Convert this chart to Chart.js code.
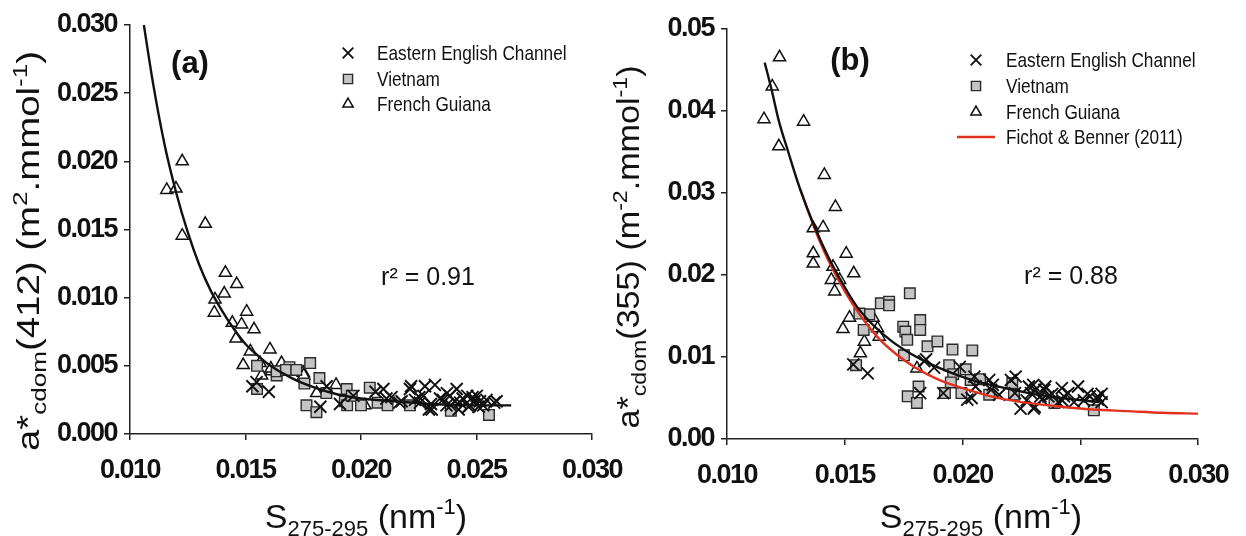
<!DOCTYPE html>
<html>
<head>
<meta charset="utf-8">
<script src="https://cdn.jsdelivr.net/npm/chart.js@4.4.0/dist/chart.umd.min.js"></script>
<style>
  html, body { margin: 0; padding: 0; background: #fff; }
  #wrap { position: relative; width: 1246px; height: 536px; overflow: hidden; background: #fff; }
  #wrap canvas { position: absolute; top: 0; }
  #chartA { left: 0; }
  #chartB { left: 600px; }
</style>
</head>
<body>
<div id="wrap">
  <canvas id="chartA" width="640" height="536"></canvas>
  <canvas id="chartB" width="646" height="536"></canvas>
</div>
<script>
// ---- data: [S275-295, a*cdom] ----
const seriesNames = ['Eastern English Channel', 'Vietnam', 'French Guiana'];
const fitNameB = 'Fichot & Benner (2011)';

// panel (a) : a*cdom(412)
const aChannel = [[0.01601,0.0031],[0.0153,0.0035],[0.01548,0.0038],[0.01824,0.0020],[0.01851,0.0035],[0.01909,0.0022],
  [0.01967,0.0028],[0.02063,0.0031],[0.02097,0.0033],[0.0211,0.0026],[0.02132,0.0027],[0.02166,0.0023],[0.02176,0.0024],
  [0.02212,0.0033],[0.02217,0.0035],[0.02234,0.0025],[0.02252,0.0027],[0.02255,0.0023],[0.0227,0.0028],[0.02277,0.0035],
  [0.02294,0.0018],[0.02303,0.0022],[0.02306,0.0018],[0.0232,0.0036],[0.02342,0.0026],[0.02354,0.0025],[0.0237,0.0021],
  [0.02372,0.0030],[0.02385,0.0028],[0.02389,0.0021],[0.02406,0.0024],[0.02414,0.0033],[0.02423,0.0018],[0.02429,0.0023],
  [0.0244,0.0026],[0.0246,0.0028],[0.02466,0.0020],[0.02472,0.0021],[0.02483,0.0027],[0.02491,0.0024],[0.02501,0.0028],
  [0.02509,0.0020],[0.02515,0.0024],[0.02529,0.0021],[0.02543,0.0025],[0.02577,0.0023],[0.02587,0.0024]];
const aVietnam = [[0.0155,0.0033],[0.0155,0.0050],[0.01635,0.0043],[0.01635,0.0046],[0.0169,0.0049],[0.01675,0.0047],
  [0.0172,0.0047],[0.0178,0.0052],[0.01755,0.0037],[0.01764,0.0021],[0.01807,0.0016],[0.0182,0.0041],[0.0185,0.0030],
  [0.0193,0.0024],[0.01938,0.0033],[0.0194,0.0021],[0.0196,0.0028],[0.0200,0.0021],[0.02038,0.0034],[0.02072,0.0023],
  [0.02115,0.0021],[0.02212,0.0021],[0.02389,0.0017],[0.02554,0.0014]];
const aGuiana = [[0.01159,0.0179],[0.01199,0.0180],[0.01226,0.0200],[0.01226,0.01455],[0.01326,0.01542],[0.01413,0.01182],
  [0.01462,0.0110],[0.01368,0.00987],[0.01408,0.0103],[0.01365,0.0089],[0.01505,0.00897],[0.01443,0.00816],[0.01483,0.00804],
  [0.01537,0.00768],[0.01459,0.0070],[0.01521,0.00606],[0.0149,0.00506],[0.01606,0.0062],[0.01563,0.0052],[0.0157,0.0043],
  [0.01613,0.0046],[0.01656,0.0052],[0.0175,0.0045],[0.01808,0.0030],[0.01892,0.0036],[0.02017,0.0021],[0.0161,0.0048],
  [0.01752,0.0043]];
const aFit = [[0.0106,0.0300],[0.0110,0.0257],[0.0115,0.0212],[0.0120,0.0177],[0.0125,0.0148],[0.0130,0.0124],
  [0.0135,0.0105],[0.0140,0.0090],[0.0145,0.0077],[0.0150,0.0066],[0.0155,0.0058],[0.0160,0.0051],[0.0170,0.0041],
  [0.0180,0.0034],[0.0190,0.0029],[0.0200,0.0026],[0.0215,0.0024],[0.0230,0.0022],[0.0250,0.0021],[0.0265,0.0021]];

// panel (b) : a*cdom(355)
const bChannel = [[0.01536,0.0091],[0.01597,0.0080],[0.0182,0.0056],[0.01837,0.0095],[0.01845,0.0097],[0.01879,0.0087],
  [0.01918,0.0056],[0.01988,0.0088],[0.0202,0.0048],[0.02038,0.0050],[0.0205,0.0076],[0.02055,0.0064],[0.02113,0.0072],
  [0.02121,0.0060],[0.02128,0.0066],[0.02155,0.0054],[0.02205,0.0072],[0.02222,0.0056],[0.02225,0.0076],[0.02246,0.0037],
  [0.02272,0.0047],[0.02281,0.0064],[0.0229,0.0056],[0.023,0.0066],[0.02302,0.0037],[0.02306,0.0039],[0.02309,0.0060],
  [0.0233,0.0052],[0.02337,0.0048],[0.02347,0.0060],[0.02351,0.0064],[0.02364,0.0052],[0.0238,0.0055],[0.02406,0.0045],
  [0.02421,0.0062],[0.02423,0.0047],[0.0243,0.0052],[0.02448,0.0056],[0.02473,0.0045],[0.0249,0.0064],[0.02515,0.0047],
  [0.0253,0.0055],[0.0254,0.0052],[0.02573,0.0052],[0.02574,0.0048],[0.0259,0.0045],[0.0259,0.0055]];
const bVietnam = [[0.01548,0.0090],[0.0158,0.0133],[0.01604,0.0152],[0.01562,0.0153],[0.01653,0.01655],[0.01688,0.01675],
  [0.01688,0.0163],[0.01776,0.01777],[0.01748,0.0137],[0.01757,0.0131],[0.01765,0.0121],[0.0182,0.0145],[0.0182,0.0133],
  [0.01751,0.0102],[0.01851,0.0113],[0.01893,0.0119],[0.01957,0.0109],[0.02041,0.0108],[0.01943,0.0090],[0.02013,0.0085],
  [0.0196,0.0079],[0.02034,0.0072],[0.02074,0.0073],[0.01813,0.0064],[0.01767,0.0052],[0.01806,0.0044],[0.01925,0.0056],
  [0.01995,0.0056],[0.02113,0.0054],[0.02211,0.0068],[0.02218,0.0054],[0.0239,0.0044],[0.02557,0.0035],[0.0195,0.0069]];
const bGuiana = [[0.01157,0.0390],[0.01192,0.0430],[0.01223,0.04655],[0.0122,0.0357],[0.01325,0.0387],[0.01413,0.0322],
  [0.0146,0.0283],[0.01366,0.0257],[0.01408,0.0258],[0.01366,0.02265],[0.01366,0.0214],[0.01506,0.0226],[0.0145,0.0210],
  [0.01538,0.0202],[0.01443,0.0194],[0.01478,0.0194],[0.01457,0.0180],[0.0152,0.0148],[0.01492,0.0134],[0.01583,0.01187],
  [0.01566,0.01045],[0.01639,0.0135],[0.01646,0.01248],[0.01806,0.0086],[0.0162,0.0148]];
const bFit = [[0.0116,0.0459],[0.0119,0.0425],[0.0122,0.0388],[0.0126,0.0350],[0.0131,0.0305],[0.0137,0.0260],
  [0.0143,0.0222],[0.0149,0.0190],[0.0155,0.0162],[0.0162,0.0139],[0.0170,0.0119],[0.0178,0.0104],[0.0186,0.0092],
  [0.0195,0.0081],[0.0205,0.0071],[0.0215,0.0064],[0.0228,0.0056],[0.0242,0.0050],[0.0258,0.0045]];
const bFichot = [[0.0131,0.0305],[0.0137,0.0258],[0.0143,0.0218],[0.0150,0.0180],[0.0157,0.0149],[0.0164,0.0124],
  [0.0172,0.0103],[0.0180,0.0087],[0.0190,0.0072],[0.0200,0.0062],[0.0212,0.0052],[0.0225,0.0045],[0.0240,0.0040],
  [0.0255,0.0036],[0.0270,0.0034],[0.0285,0.0032],[0.0300,0.0031]];

const xTicks = [0.010, 0.015, 0.020, 0.025, 0.030];
const yTicksA = [0.000, 0.005, 0.010, 0.015, 0.020, 0.025, 0.030];
const yTicksB = [0.00, 0.01, 0.02, 0.03, 0.04, 0.05];
const r2A = 'r² = 0.91';
const r2B = 'r² = 0.88';

// ---- styling ----
const SANS = "'Liberation Sans', Arial, sans-serif";
const MAIN = '31px ' + SANS;
const SMALL = '21px ' + SANS;
const XMAIN = '34px ' + SANS;
const XSMALL = '22px ' + SANS;
Chart.defaults.font.family = SANS;

const markerStyles = [
  { pointStyle: 'crossRot', radius: 8.5, borderWidth: 1.9, borderColor: '#111', backgroundColor: '#111' },
  { pointStyle: 'rect', radius: 7.5, borderWidth: 1.4, borderColor: '#2a2a2a', backgroundColor: '#c4c4c4' },
  { pointStyle: 'triangle', radius: 7, borderWidth: 1.5, borderColor: '#111', backgroundColor: '#ffffff' }
];

function pts(arr) { return arr.map(p => ({ x: p[0], y: p[1] })); }

function scatterSet(label, arr, i) {
  const m = markerStyles[i];
  return {
    label: label, data: pts(arr), order: 2 + i,
    pointStyle: m.pointStyle, pointRadius: m.radius, pointHoverRadius: m.radius,
    pointBorderWidth: m.borderWidth, pointBorderColor: m.borderColor, pointBackgroundColor: m.backgroundColor,
    showLine: false
  };
}

function lineSet(label, arr, color) {
  return {
    type: 'line', label: label, data: pts(arr), order: 0,
    borderColor: color, borderWidth: 2.4, pointRadius: 0, fill: false,
    cubicInterpolationMode: 'monotone'
  };
}

function makeAxis(ticks, digits, isX, fitSize) {
  return {
    type: 'linear',
    min: ticks[0], max: ticks[ticks.length - 1],
    border: { color: '#222', width: 1.5 },
    grid: { drawOnChartArea: false, tickLength: 6, color: '#222', lineWidth: 1.5 },
    afterBuildTicks: s => { s.ticks = ticks.map(v => ({ value: v })); },
    afterFit: s => { if (isX) s.height = fitSize; else s.width = fitSize; },
    ticks: {
      color: '#111', padding: isX ? 14 : 7, maxRotation: 0, autoSkip: false,
      font: { size: 27, weight: 'bold' },
      callback: v => v.toFixed(digits)
    }
  };
}

// tight letter spacing for the bold tick labels only
const tightTicks = {
  id: 'tightTicks',
  beforeDraw(chart) { chart.ctx.letterSpacing = '-1.5px'; },
  beforeDatasetsDraw(chart) { chart.ctx.letterSpacing = '0px'; }
};

// rich text helper: parts drawn along one baseline, centred on (x,y)
function drawRich(ctx, parts, x, y, rotate, length) {
  ctx.save();
  ctx.translate(x, y);
  if (rotate) ctx.rotate(-Math.PI / 2);
  let w = 0;
  parts.forEach(p => { ctx.font = p.font; w += ctx.measureText(p.t).width; });
  if (length) ctx.scale(length / w, 1);
  ctx.fillStyle = '#111';
  ctx.textAlign = 'left';
  ctx.textBaseline = 'alphabetic';
  let cx = -w / 2;
  parts.forEach(p => {
    ctx.font = p.font;
    ctx.fillText(p.t, cx, p.dy || 0);
    cx += ctx.measureText(p.t).width;
  });
  ctx.restore();
}

function textPlugin(cfg) {
  return {
    id: 'panelText',
    afterDraw(chart) {
      const ctx = chart.ctx;
      ctx.letterSpacing = '0px';
      ctx.save();
      // panel letter
      ctx.fillStyle = '#111';
      ctx.font = 'bold 31px ' + SANS;
      ctx.textAlign = 'center';
      ctx.textBaseline = 'middle';
      ctx.fillText(cfg.letter, cfg.letterPos[0], cfg.letterPos[1]);
      // r2
      ctx.font = '25px ' + SANS;
      ctx.fillText(cfg.r2, cfg.r2Pos[0], cfg.r2Pos[1]);
      // legend
      cfg.legend.forEach((row, i) => {
        const y = cfg.legendY[i];
        if (row.line) {
          ctx.strokeStyle = row.line;
          ctx.lineWidth = 2.5;
          ctx.beginPath();
          ctx.moveTo(cfg.lineX[0], y);
          ctx.lineTo(cfg.lineX[1], y);
          ctx.stroke();
        } else {
          const m = markerStyles[i];
          ctx.fillStyle = m.backgroundColor;
          ctx.strokeStyle = m.borderColor;
          ctx.lineWidth = m.borderWidth;
          Chart.helpers.drawPoint(ctx, { pointStyle: m.pointStyle, radius: m.radius - 1, borderWidth: m.borderWidth, rotation: 0 }, cfg.markX, y);
        }
        ctx.save();
        ctx.translate(cfg.textX, y);
        ctx.scale(0.82, 1);
        ctx.fillStyle = '#111';
        ctx.font = '21px ' + SANS;
        ctx.textAlign = 'left';
        ctx.textBaseline = 'middle';
        ctx.fillText(row.text, 0, 1);
        ctx.restore();
      });
      ctx.restore();
      drawRich(ctx, cfg.yTitle, cfg.yTitlePos[0], cfg.yTitlePos[1], true, cfg.yTitleLen);
      drawRich(ctx, cfg.xTitle, cfg.xTitlePos[0], cfg.xTitlePos[1], false, 0);
    }
  };
}

const xTitleParts = [
  { t: 'S', font: XMAIN }, { t: '275-295', font: XSMALL, dy: 8 }, { t: ' (nm', font: XMAIN },
  { t: '-1', font: XSMALL, dy: -14 }, { t: ')', font: XMAIN }
];
const yTitleA = [
  { t: 'a*', font: MAIN }, { t: 'cdom', font: SMALL, dy: 7 }, { t: '(412) (m', font: MAIN },
  { t: '2', font: SMALL, dy: -12 }, { t: '.mmol', font: MAIN }, { t: '-1', font: SMALL, dy: -12 }, { t: ')', font: MAIN }
];
const yTitleB = [
  { t: 'a*', font: MAIN }, { t: 'cdom', font: SMALL, dy: 7 }, { t: '(355) (m', font: MAIN },
  { t: '-2', font: SMALL, dy: -12 }, { t: '.mmol', font: MAIN }, { t: '-1', font: SMALL, dy: -12 }, { t: ')', font: MAIN }
];

function baseOptions(yTicks, yDigits, yWidth, xHeight, pad) {
  return {
    responsive: false, animation: false, devicePixelRatio: 1,
    layout: { padding: pad },
    plugins: { legend: { display: false }, tooltip: { enabled: false } },
    scales: {
      x: makeAxis(xTicks, 3, true, xHeight),
      y: makeAxis(yTicks, yDigits, false, yWidth)
    }
  };
}

new Chart(document.getElementById('chartA'), {
  type: 'scatter',
  data: {
    datasets: [
      scatterSet(seriesNames[0], aChannel, 0),
      scatterSet(seriesNames[1], aVietnam, 1),
      scatterSet(seriesNames[2], aGuiana, 2),
      lineSet('fit', aFit, '#111')
    ]
  },
  options: baseOptions(yTicksA, 3, 130, 102, { left: 0, top: 25, right: 48, bottom: 0 }),
  plugins: [tightTicks, textPlugin({
    letter: '(a)', letterPos: [190, 64],
    r2: r2A, r2Pos: [428, 278],
    legend: [{ text: seriesNames[0] }, { text: seriesNames[1] }, { text: seriesNames[2] }],
    legendY: [53, 79, 104], markX: 348, textX: 377,
    yTitle: yTitleA, yTitlePos: [39, 251], yTitleLen: 400,
    xTitle: xTitleParts, xTitlePos: [366, 528]
  })]
});

new Chart(document.getElementById('chartB'), {
  type: 'scatter',
  data: {
    datasets: [
      scatterSet(seriesNames[0], bChannel, 0),
      scatterSet(seriesNames[1], bVietnam, 1),
      scatterSet(seriesNames[2], bGuiana, 2),
      lineSet('fit', bFit, '#111'),
      lineSet(fitNameB, bFichot, '#e2321e')
    ]
  },
  options: baseOptions(yTicksB, 2, 127, 97, { left: 0, top: 29, right: 41, bottom: 0 }),
  plugins: [tightTicks, textPlugin({
    letter: '(b)', letterPos: [250, 61],
    r2: r2B, r2Pos: [471, 277],
    legend: [{ text: seriesNames[0] }, { text: seriesNames[1] }, { text: seriesNames[2] }, { text: fitNameB, line: '#e2321e' }],
    legendY: [60, 86, 112, 137], markX: 376, textX: 406, lineX: [357, 395],
    yTitle: yTitleB, yTitlePos: [39, 247], yTitleLen: 363,
    xTitle: xTitleParts, xTitlePos: [381, 528]
  })]
});
</script>
</body>
</html>
